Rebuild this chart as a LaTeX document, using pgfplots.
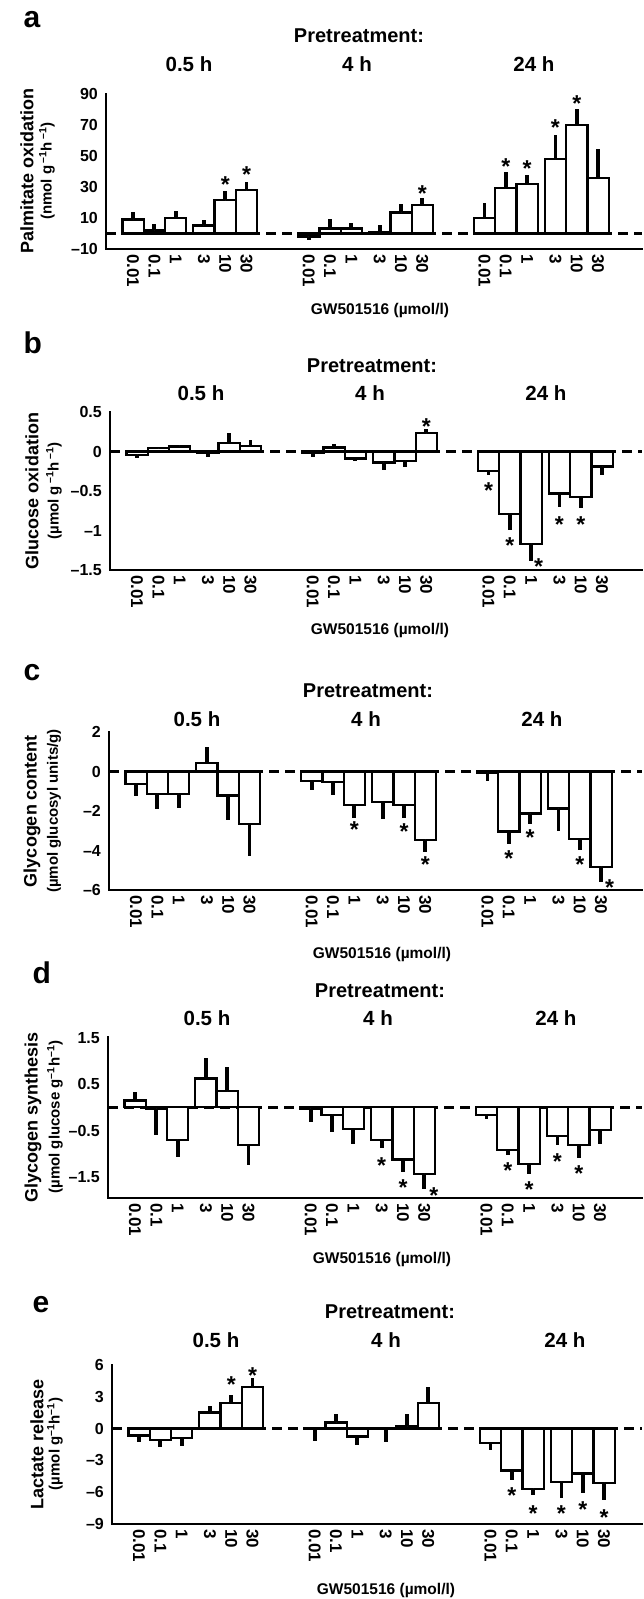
\documentclass[border=0pt]{standalone}
\usepackage{pgfplots}
\pgfplotsset{compat=1.18}
\usepackage{pgfplotstable}
\usepackage{fontspec}
\setmainfont{Liberation Sans}

\newcommand{\fs}[1]{\fontsize{#1}{#1}\selectfont\bfseries}

% bar tables: x y err+ err-
\pgfplotstableread{
x y ep em
0 9.1 4.9 0
1 2 4 0
2 10.2 4.3 0
3.33 5.2 3.8 0
4.33 21.4 5.9 0
5.33 27.9 5.4 0
8.25 -2 0 2
9.25 3.2 6.3 0
10.25 3.2 3.8 0
11.58 0.9 4.9 0
12.58 13.6 5.2 0
13.58 18.6 4.4 0
16.5 10.2 9.5 0
17.5 29.2 10.2 0
18.5 32 5.9 0
19.83 48 15.6 0
20.83 70.1 10.4 0
21.83 35.9 18.9 0
}\barsA
\pgfplotstableread{
x y
4.33 34.4
5.33 40.9
13.58 29
17.5 46.3
18.5 45.2
19.83 71.2
20.83 86.8
}\starsA

\pgfplotstableread{
x y ep em
0 -0.04 0 0.04
1 0.04 0.02 0
2 0.065 0.01 0
3.33 -0.02 0 0.05
4.33 0.11 0.12 0
5.33 0.074 0.076 0
8.25 -0.02 0 0.045
9.25 0.05 0.05 0
10.25 -0.087 0 0.033
11.58 -0.14 0 0.09
12.58 -0.12 0 0.08
13.58 0.23 0.05 0
16.5 -0.25 0 0.05
17.5 -0.79 0 0.2
18.5 -1.17 0 0.21
19.83 -0.53 0 0.17
20.83 -0.58 0 0.13
21.83 -0.19 0 0.11
}\barsB
\pgfplotstableread{
x y
13.58 0.37
16.5 -0.43
17.5 -1.13
18.85 -1.40
19.83 -0.86
20.83 -0.87
}\starsB

\pgfplotstableread{
x y ep em
0 -0.62 0 0.62
1 -1.13 0 0.75
2 -1.13 0 0.70
3.33 0.44 0.82 0
4.33 -1.21 0 1.26
5.33 -2.67 0 1.6
8.25 -0.49 0 0.47
9.25 -0.54 0 0.67
10.25 -1.71 0 0.63
11.58 -1.55 0 0.84
12.58 -1.71 0 0.63
13.58 -3.45 0 0.62
16.5 -0.07 0 0.42
17.5 -3.03 0 0.65
18.5 -2.13 0 0.51
19.83 -1.88 0 1.13
20.83 -3.43 0 0.55
21.83 -4.82 0 0.76
}\barsC
\pgfplotstableread{
x y
10.25 -2.72
12.58 -2.81
13.58 -4.49
17.5 -4.15
18.5 -3.11
20.83 -4.49
22.23 -5.63
}\starsC

\pgfplotstableread{
x y ep em
0 0.145 0.185 0
1 -0.03 0 0.56
2 -0.70 0 0.37
3.33 0.62 0.45 0
4.33 0.35 0.51 0
5.33 -0.81 0 0.44
8.25 -0.03 0 0.29
9.25 -0.16 0 0.36
10.25 -0.47 0 0.31
11.58 -0.70 0 0.18
12.58 -1.12 0 0.27
13.58 -1.43 0 0.32
16.5 -0.16 0 0.09
17.5 -0.92 0 0.11
18.5 -1.22 0 0.21
19.83 -0.61 0 0.20
20.83 -0.81 0 0.28
21.83 -0.49 0 0.29
}\barsD
\pgfplotstableread{
x y
11.58 -1.16
12.58 -1.62
14.03 -1.79
17.5 -1.26
18.5 -1.67
19.83 -1.07
20.83 -1.33
}\starsD

\pgfplotstableread{
x y ep em
0 -0.64 0 0.64
1 -1.09 0 0.67
2 -0.90 0 0.77
3.33 1.51 0.64 0
4.33 2.44 0.76 0
5.33 3.91 0.87 0
8.25 -0.06 0 1.13
9.25 0.58 0.77 0
10.25 -0.74 0 0.80
11.58 -0.06 0 1.22
12.58 0.22 1.13 0
13.58 2.40 1.57 0
16.5 -1.38 0 0.61
17.5 -3.94 0 0.93
18.5 -5.67 0 0.58
19.83 -5.03 0 1.48
20.83 -4.23 0 1.80
21.83 -5.13 0 1.60
}\barsE
\pgfplotstableread{
x y
4.33 4.65
5.33 5.45
17.5 -5.83
18.5 -7.53
19.83 -7.53
20.83 -7.21
21.83 -7.95
}\starsE

\pgfplotsset{
  panel/.style={
    anchor=south west, clip=false,
    axis x line*=bottom, axis y line*=left,
    axis line style={line width=2.4pt, line cap=rect},
    x=21.3pt, xmin=-1.27,
    xtick={0,1,2,3.33,4.33,5.33,8.25,9.25,10.25,11.58,12.58,13.58,16.5,17.5,18.5,19.83,20.83,21.83},
    xticklabels={0.01,0.1,1,3,10,30,0.01,0.1,1,3,10,30,0.01,0.1,1,3,10,30},
    major tick length=0pt,
    xticklabel style={rotate=-90, anchor=west, inner sep=0pt, font=\fs{17}},
    xticklabel shift=5pt,
    yticklabel style={anchor=east, inner sep=0pt, xshift=-8pt, font=\fs{16}},
  },
  bars/.style={ybar, bar width=1, bar shift=0pt, fill=white, draw=black,
    line width=2.3pt,
    error bars/y dir=both, error bars/y explicit, error bars/error mark=none,
    error bars/error bar style={line width=3.8pt, line cap=butt}},
  stars/.style={draw=none, mark=none, nodes near coords={*},
    nodes near coords align={center},
    every node near coord/.append style={font=\fs{23}, inner sep=0pt, yshift=-4.8pt}},
  zero/.style={black, line width=2.5pt, dash pattern=on 10pt off 6pt},
}

\begin{document}
\begin{tikzpicture}
\path[use as bounding box] (0,0) rectangle (644pt,-1599pt);

% ---- a
\begin{axis}[panel, at={(106pt,-249pt)}, y=1.55pt, ymin=-10, ymax=90, xmax=23.89,
  ytick={-10,10,30,50,70,90}, yticklabels={–10,10,30,50,70,90}]
\addplot[zero] coordinates {(-1.27,0) (23.89,0)};
\addplot[bars] table[x=x, y=y, y error plus=ep, y error minus=em] {\barsA};
\addplot[stars] table[x=x, y=y] {\starsA};
\end{axis}
\node[anchor=base west, font=\fs{30}] at (20pt,-27pt) {a};
\node[anchor=base, font=\fs{20}] at (359pt,-42pt) {Pretreatment:};
\node[anchor=base, font=\fs{20.5}] at (189pt,-71pt) {0.5 h};
\node[anchor=base, font=\fs{20.5}] at (357pt,-71pt) {4 h};
\node[anchor=base, font=\fs{20.5}] at (534pt,-71pt) {24 h};
\node[anchor=base, font=\fs{15.5}] at (380pt,-314pt) {GW501516 (µmol/l)};
\node[rotate=90, font=\fs{18}] at (27pt,-171pt) {Palmitate oxidation};
\node[rotate=90, font=\fs{15}] at (47pt,-171pt) {(nmol g\,\textsuperscript{–1}h\,\textsuperscript{–1})};

% ---- b
\begin{axis}[panel, at={(110pt,-570pt)}, y=79pt, ymin=-1.5, ymax=0.5, xmax=23.71,
  ytick={-1.5,-1,-0.5,0,0.5}, yticklabels={–1.5,–1,–0.5,0,0.5}]
\addplot[zero] coordinates {(-1.27,0) (23.71,0)};
\addplot[bars] table[x=x, y=y, y error plus=ep, y error minus=em] {\barsB};
\addplot[stars] table[x=x, y=y] {\starsB};
\end{axis}
\node[anchor=base west, font=\fs{30}] at (20pt,-353pt) {b};
\node[anchor=base, font=\fs{20}] at (372pt,-372pt) {Pretreatment:};
\node[anchor=base, font=\fs{20.5}] at (201pt,-400pt) {0.5 h};
\node[anchor=base, font=\fs{20.5}] at (370pt,-400pt) {4 h};
\node[anchor=base, font=\fs{20.5}] at (546pt,-400pt) {24 h};
\node[anchor=base, font=\fs{15.5}] at (380pt,-634pt) {GW501516 (µmol/l)};
\node[rotate=90, font=\fs{18}] at (32pt,-491pt) {Glucose oxidation};
\node[rotate=90, font=\fs{15}] at (54pt,-491pt) {(µmol g\,\textsuperscript{–1}h\,\textsuperscript{–1})};

% ---- c
\begin{axis}[panel, at={(109pt,-890pt)}, y=19.75pt, ymin=-6, ymax=2, xmax=23.75,
  ytick={-6,-4,-2,0,2}, yticklabels={–6,–4,–2,0,2}]
\addplot[zero] coordinates {(-1.27,0) (23.75,0)};
\addplot[bars] table[x=x, y=y, y error plus=ep, y error minus=em] {\barsC};
\addplot[stars] table[x=x, y=y] {\starsC};
\end{axis}
\node[anchor=base west, font=\fs{30}] at (20pt,-680pt) {c};
\node[anchor=base, font=\fs{20}] at (368pt,-697pt) {Pretreatment:};
\node[anchor=base, font=\fs{20.5}] at (197pt,-726pt) {0.5 h};
\node[anchor=base, font=\fs{20.5}] at (366pt,-726pt) {4 h};
\node[anchor=base, font=\fs{20.5}] at (542pt,-726pt) {24 h};
\node[anchor=base, font=\fs{15.5}] at (382pt,-958pt) {GW501516 (µmol/l)};
\node[rotate=90, font=\fs{18}] at (32pt,-811pt) {Glycogen content};
\node[rotate=90, font=\fs{15}] at (54pt,-811pt) {(µmol glucosyl units/g)};

% ---- d
\begin{axis}[panel, at={(108pt,-1198pt)}, y=46.5pt, ymin=-1.95, ymax=1.5, xmax=23.8,
  ytick={-1.5,-0.5,0.5,1.5}, yticklabels={–1.5,–0.5,0.5,1.5}]
\addplot[zero] coordinates {(-1.27,0) (23.8,0)};
\addplot[bars] table[x=x, y=y, y error plus=ep, y error minus=em] {\barsD};
\addplot[stars] table[x=x, y=y] {\starsD};
\end{axis}
\node[anchor=base west, font=\fs{30}] at (29pt,-983pt) {d};
\node[anchor=base, font=\fs{20}] at (380pt,-997pt) {Pretreatment:};
\node[anchor=base, font=\fs{20.5}] at (207pt,-1025pt) {0.5 h};
\node[anchor=base, font=\fs{20.5}] at (378pt,-1025pt) {4 h};
\node[anchor=base, font=\fs{20.5}] at (556pt,-1025pt) {24 h};
\node[anchor=base, font=\fs{15.5}] at (382pt,-1263pt) {GW501516 (µmol/l)};
\node[rotate=90, font=\fs{18}] at (33pt,-1117pt) {Glycogen synthesis};
\node[rotate=90, font=\fs{15}] at (55pt,-1117pt) {(µmol glucose g\textsuperscript{–1}h\textsuperscript{–1})};

% ---- e
\begin{axis}[panel, at={(112pt,-1524pt)}, y=10.6pt, ymin=-9, ymax=6, xmax=23.61,
  ytick={-9,-6,-3,0,3,6}, yticklabels={–9,–6,–3,0,3,6}]
\addplot[zero] coordinates {(-1.27,0) (23.61,0)};
\addplot[bars] table[x=x, y=y, y error plus=ep, y error minus=em] {\barsE};
\addplot[stars] table[x=x, y=y] {\starsE};
\end{axis}
\node[anchor=base west, font=\fs{30}] at (29pt,-1312pt) {e};
\node[anchor=base, font=\fs{20}] at (390pt,-1318pt) {Pretreatment:};
\node[anchor=base, font=\fs{20.5}] at (216pt,-1347pt) {0.5 h};
\node[anchor=base, font=\fs{20.5}] at (386pt,-1347pt) {4 h};
\node[anchor=base, font=\fs{20.5}] at (565pt,-1347pt) {24 h};
\node[anchor=base, font=\fs{15.5}] at (386pt,-1594pt) {GW501516 (µmol/l)};
\node[rotate=90, font=\fs{18}] at (37pt,-1444pt) {Lactate release};
\node[rotate=90, font=\fs{15}] at (55pt,-1444pt) {(µmol g\textsuperscript{–1}h\textsuperscript{–1})};
\end{tikzpicture}
\end{document}
